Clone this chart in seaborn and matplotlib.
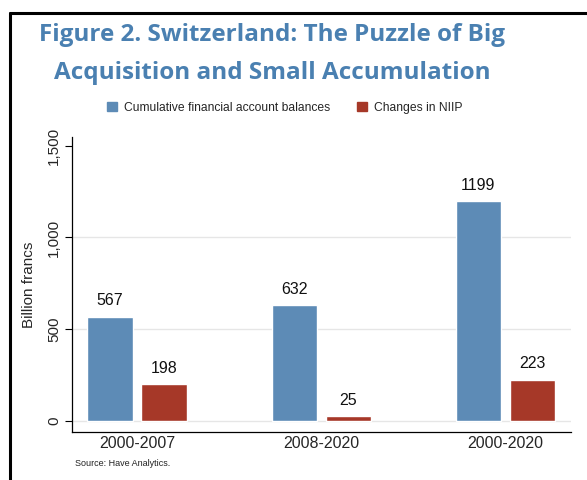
import matplotlib
matplotlib.use("Agg")
import matplotlib.pyplot as plt
from matplotlib.lines import Line2D
import pandas as pd
import seaborn as sns

periods = ["2000-2007", "2008-2020", "2000-2020"]
series_names = ["Cumulative financial account balances", "Changes in NIIP"]
cumulative_fa = [567, 632, 1199]
niip_changes = [198, 25, 223]
yticks = [0, 500, 1000, 1500]
ytick_labels = ["0", "500", "1,000", "1,500"]

colors = ["#5d8bb6", "#a63828"]
title_color = "#4a80b1"

sns.set_theme(style="white")
plt.rcParams["font.family"] = ["Liberation Sans", "DejaVu Sans"]

df = pd.DataFrame({
    "period": periods * 2,
    "series": [series_names[0]] * 3 + [series_names[1]] * 3,
    "value": cumulative_fa + niip_changes,
})

fig = plt.figure(figsize=(5.87, 4.80), dpi=100)
ax = fig.add_axes([72 / 587, 0.1, 499 / 587, 0.6152])

sns.barplot(data=df, x="period", y="value", hue="series", order=periods,
            hue_order=series_names, palette=colors, width=0.587, gap=0.165,
            saturation=1, errorbar=None, ax=ax, legend=False)

for cont in ax.containers:
    ax.bar_label(cont, fmt="%d", padding=6, fontsize=11.5, color="#111111")

ax.set_xlim(-0.353, 2.356)
ax.set_ylim(-62, 1550)
ax.set_yticks(yticks)
ax.set_yticklabels(ytick_labels, rotation=90, va="center", fontsize=11)
ax.tick_params(axis="y", left=True, length=5, width=0.8, color="black", pad=3)
ax.tick_params(axis="x", bottom=False, length=0, labelsize=11.5, pad=3)
ax.set_xlabel("")
ax.set_ylabel("Billion francs", fontsize=11, labelpad=8)

# light gridlines (not at top)
for v in yticks[:-1]:
    ax.axhline(v, color="#e6e6e6", lw=1, zorder=0)

sns.despine(ax=ax)
for s in ["left", "bottom"]:
    ax.spines[s].set_color("black")
    ax.spines[s].set_linewidth(0.9)

# legend
handles = [plt.Rectangle((0, 0), 1, 1, color=c) for c in colors]
fig.legend(handles, series_names, loc="center", bbox_to_anchor=(285 / 587, 1 - 108 / 480),
           ncol=2, frameon=False, fontsize=8.7, handlelength=0.8, handleheight=0.8,
           handletextpad=0.6, columnspacing=2.2)

# title
title_font = dict(ha="center", va="center", fontsize=17.5, fontweight="bold",
                  color=title_color, family=["Open Sans", "DejaVu Sans"])
fig.text(272 / 587, 1 - 35 / 480, "Figure 2. Switzerland: The Puzzle of Big", **title_font)
fig.text(272 / 587, 1 - 73 / 480, "Acquisition and Small Accumulation", **title_font)

fig.text(75 / 587, 1 - 464 / 480, "Source: Have Analytics.", fontsize=6.5,
         ha="left", va="center", color="#222222")

# frame lines
fig.add_artist(Line2D([10 / 587, 1.0], [1 - 13 / 480, 1 - 13 / 480], color="black", lw=2.2))
fig.add_artist(Line2D([10 / 587, 10 / 587], [1 - 13 / 480, 0], color="black", lw=2.2))

fig.savefig("out.png", dpi=100)
